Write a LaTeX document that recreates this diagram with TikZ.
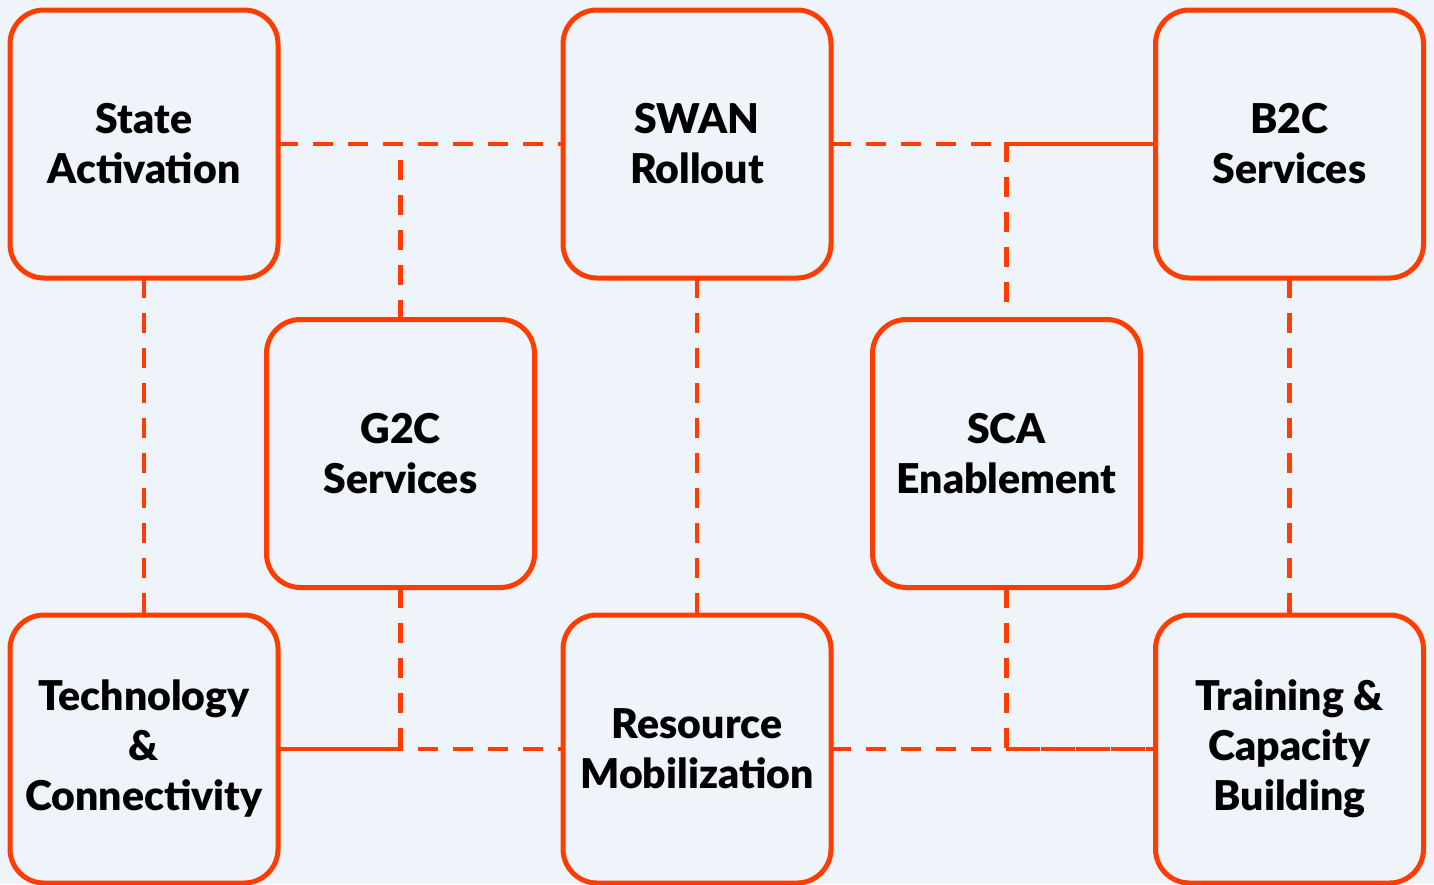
\documentclass[tikz,border=0pt]{standalone}
\usepackage{fontspec}
\setmainfont{Lato}[BoldFont={Lato Black}]
\definecolor{bgc}{HTML}{EFF3FA}
\definecolor{orc}{HTML}{FF3D00}
\tikzset{
  box/.style={draw=orc, line width=5pt, fill=bgc, rectangle, rounded corners=34pt,
    minimum width=268pt, minimum height=268pt, outer sep=0pt, inner sep=0pt,
    align=center, text=black, font=\bfseries\fontsize{41}{50}\selectfont},
  link/.style={draw=orc, line width=4.5pt, dash pattern=on 20pt off 15pt}
}
\begin{document}
\begin{tikzpicture}[x=1pt,y=-1pt]
\useasboundingbox (0,0) rectangle (1434,884);
\fill[bgc] (0,0) rectangle (1434,884);
% node positions
\coordinate (psa) at (144,144);
\coordinate (pswan) at (697,144);
\coordinate (pb2c) at (1289.5,144);
\coordinate (pg2c) at (400.5,453.5);
\coordinate (psca) at (1006.5,453.5);
\coordinate (ptc) at (144,749);
\coordinate (prm) at (697,749);
\coordinate (ptcb) at (1289.5,749);
% invisible placeholders for anchors
\path node[box, draw=none, fill=none] (sa0) at (psa) {}
      node[box, draw=none, fill=none] (swan0) at (pswan) {}
      node[box, draw=none, fill=none] (b2c0) at (pb2c) {}
      node[box, draw=none, fill=none] (g2c0) at (pg2c) {}
      node[box, draw=none, fill=none] (sca0) at (psca) {}
      node[box, draw=none, fill=none] (tc0) at (ptc) {}
      node[box, draw=none, fill=none] (rm0) at (prm) {}
      node[box, draw=none, fill=none] (tcb0) at (ptcb) {};
\coordinate (jtop) at (g2c0.north |- sa0.east);
% connectors
\draw[link] (sa0.east) -- (swan0.west);
\draw[link] (g2c0.north) -- (jtop);
\draw[link] (swan0.east) -- (b2c0.west);
\draw[link, dash phase=17.5pt] (sca0.north) |- (b2c0.west);
\draw[link] (sa0.south) -- (tc0.north);
\draw[link] (swan0.south) -- (rm0.north);
\draw[link] (b2c0.south) -- (tcb0.north);
\draw[link] (tc0.east) -- (rm0.west);
\draw[link] (g2c0.south) |- (tc0.east);
\draw[link] (rm0.east) -- (tcb0.west);
\draw[link] (sca0.south) |- (tcb0.west);
% boxes
\node[box] (sa) at (psa) {State\\Activation};
\node[box] (swan) at (pswan) {SWAN\\Rollout};
\node[box] (b2c) at (pb2c) {B2C\\Services};
\node[box] (g2c) at (pg2c) {G2C\\Services};
\node[box] (sca) at (psca) {SCA\\Enablement};
\node[box] (tc) at (ptc) {Technology\\\&\\Connectivity};
\node[box] (rm) at (prm) {Resource\\Mobilization};
\node[box] (tcb) at (ptcb) {Training \&\\Capacity\\Building};
\end{tikzpicture}
\end{document}
